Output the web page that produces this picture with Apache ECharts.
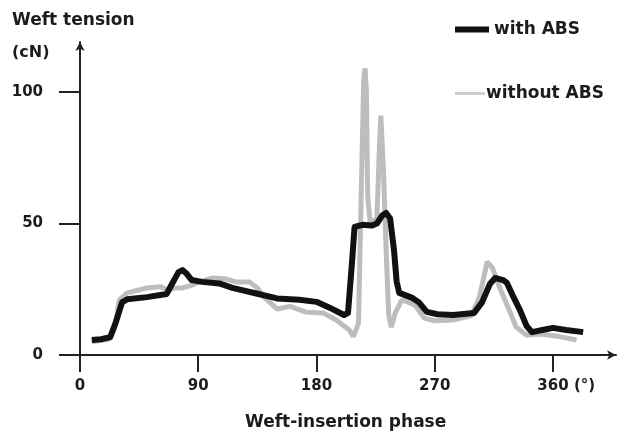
<!DOCTYPE html>
<html>
<head>
<meta charset="utf-8">
<script src="https://cdn.jsdelivr.net/npm/echarts@6/dist/echarts.min.js"></script>
<style>
html,body{margin:0;padding:0;background:#fff;}
#chart{width:620px;height:444px;}
</style>
</head>
<body>
<div id="chart"></div>
<script>
// ---- data ----
var phaseWith   = [9,16,23,27,32,36,51,66,70,75,78,81,85,93,106,116,135,150,167,180,190,201,204,207,209,215,222,226,230,233,236,239,241,243,253,258,264,272,284,300,306,312,316,322,325,330,335,340,344,352,360,370,383];
var tensionWith = [5.7,6,6.8,12,20,21.2,22,23.2,27,31.5,32.3,31,28.5,27.8,27.2,25.5,23.3,21.5,21,20.2,18,15.2,16,35,48.7,49.5,49.2,50,53,54,52,40,28,23.6,21.7,20,16.4,15.5,15.2,16,20,27,29.3,28.5,27.4,22,17,11,8.7,9.5,10.3,9.5,8.7];

var phaseWithout   = [9,22,27,30,36,51,61,67,72,78,85,91,101,110,119,129,135,140,150,160,172,185,195,205,208,212,214,216,217,218,219,221,226,228,229,231,233,235,237,240,245,255,262,270,284,298,304,310,314,320,326,332,340,350,365,378];
var tensionWithout = [5,6,12,21,23.6,25.5,26,24.7,25.5,25.5,26.5,27.8,29.3,29,27.8,27.8,25.5,22,17.5,18.5,16.3,16,13.3,9.5,7,12,60,105,109,100,60,50,52,80,91,70,40,15,10.6,16,21,19,14,13,13.3,15,22,35.4,33,25,18,10.6,7.5,8,7,5.7];

var xTicks = [0,90,180,270,360];
var yTicks = [0,50,100];
var seriesNames = ['with ABS','without ABS'];

function zip(a,b){ var r=[]; for(var i=0;i<a.length;i++) r.push([a[i],b[i]]); return r; }

var chart = echarts.init(document.getElementById('chart'));
var FONT = 'DejaVu Sans';
var TXT = '#1c1c1c';

chart.setOption({
  animation:false,
  backgroundColor:'#ffffff',
  grid:{left:80,right:4,top:42,bottom:89,containLabel:false},
  xAxis:{
    type:'value', min:0, max:408, interval:90,
    axisLine:{show:true,lineStyle:{color:'#222',width:2},symbol:['none','arrow'],symbolSize:[7,9]},
    axisTick:{show:true,length:17,lineStyle:{color:'#222',width:2},customValues:xTicks},
    axisLabel:{show:true,margin:24,color:TXT,fontFamily:FONT,fontWeight:'bold',fontSize:15,customValues:xTicks},
    splitLine:{show:false}
  },
  yAxis:{
    type:'value', min:0, max:119, interval:50, offset:9,
    axisLine:{show:true,lineStyle:{color:'#222',width:2},symbol:['none','arrow'],symbolSize:[7,9]},
    axisTick:{show:true,length:21,lineStyle:{color:'#222',width:2},customValues:yTicks},
    axisLabel:{show:true,margin:28,color:TXT,fontFamily:FONT,fontWeight:'bold',fontSize:15,customValues:yTicks},
    splitLine:{show:false}
  },
  legend:[
    {data:[{name:seriesNames[0],icon:'rect'}],left:450,top:16,orient:'vertical',itemWidth:34,itemHeight:6,itemGap:6,
     textStyle:{color:TXT,fontFamily:FONT,fontWeight:'bold',fontSize:17}},
    {data:[{name:seriesNames[1],icon:'rect',itemStyle:{color:'#cdcdcd'}}],left:450,top:80,orient:'vertical',itemWidth:30,itemHeight:3,itemGap:6,
     textStyle:{color:TXT,fontFamily:FONT,fontWeight:'bold',fontSize:17,padding:[0,0,0,-4]}}
  ],
  graphic:[
    {type:'text',left:12,top:12,style:{text:'Weft tension',fill:TXT,font:'bold 17px "DejaVu Sans"'}},
    {type:'text',left:12,top:45,style:{text:'(cN)',fill:TXT,font:'bold 16px "DejaVu Sans"'}},
    {type:'text',left:245,top:414,style:{text:'Weft-insertion phase',fill:TXT,font:'bold 17px "DejaVu Sans"'}},
    {type:'text',left:574,top:379,style:{text:'(°)',fill:TXT,font:'bold 15px "DejaVu Sans"'}}
  ],
  series:[
    {name:seriesNames[1],type:'line',data:zip(phaseWithout,tensionWithout),showSymbol:false,
     lineStyle:{color:'#bdbdbd',width:5},itemStyle:{color:'#bdbdbd'},z:2},
    {name:seriesNames[0],type:'line',data:zip(phaseWith,tensionWith),showSymbol:false,
     lineStyle:{color:'#111',width:6,join:'round'},itemStyle:{color:'#111'},z:3}
  ]
});
</script>
</body>
</html>
